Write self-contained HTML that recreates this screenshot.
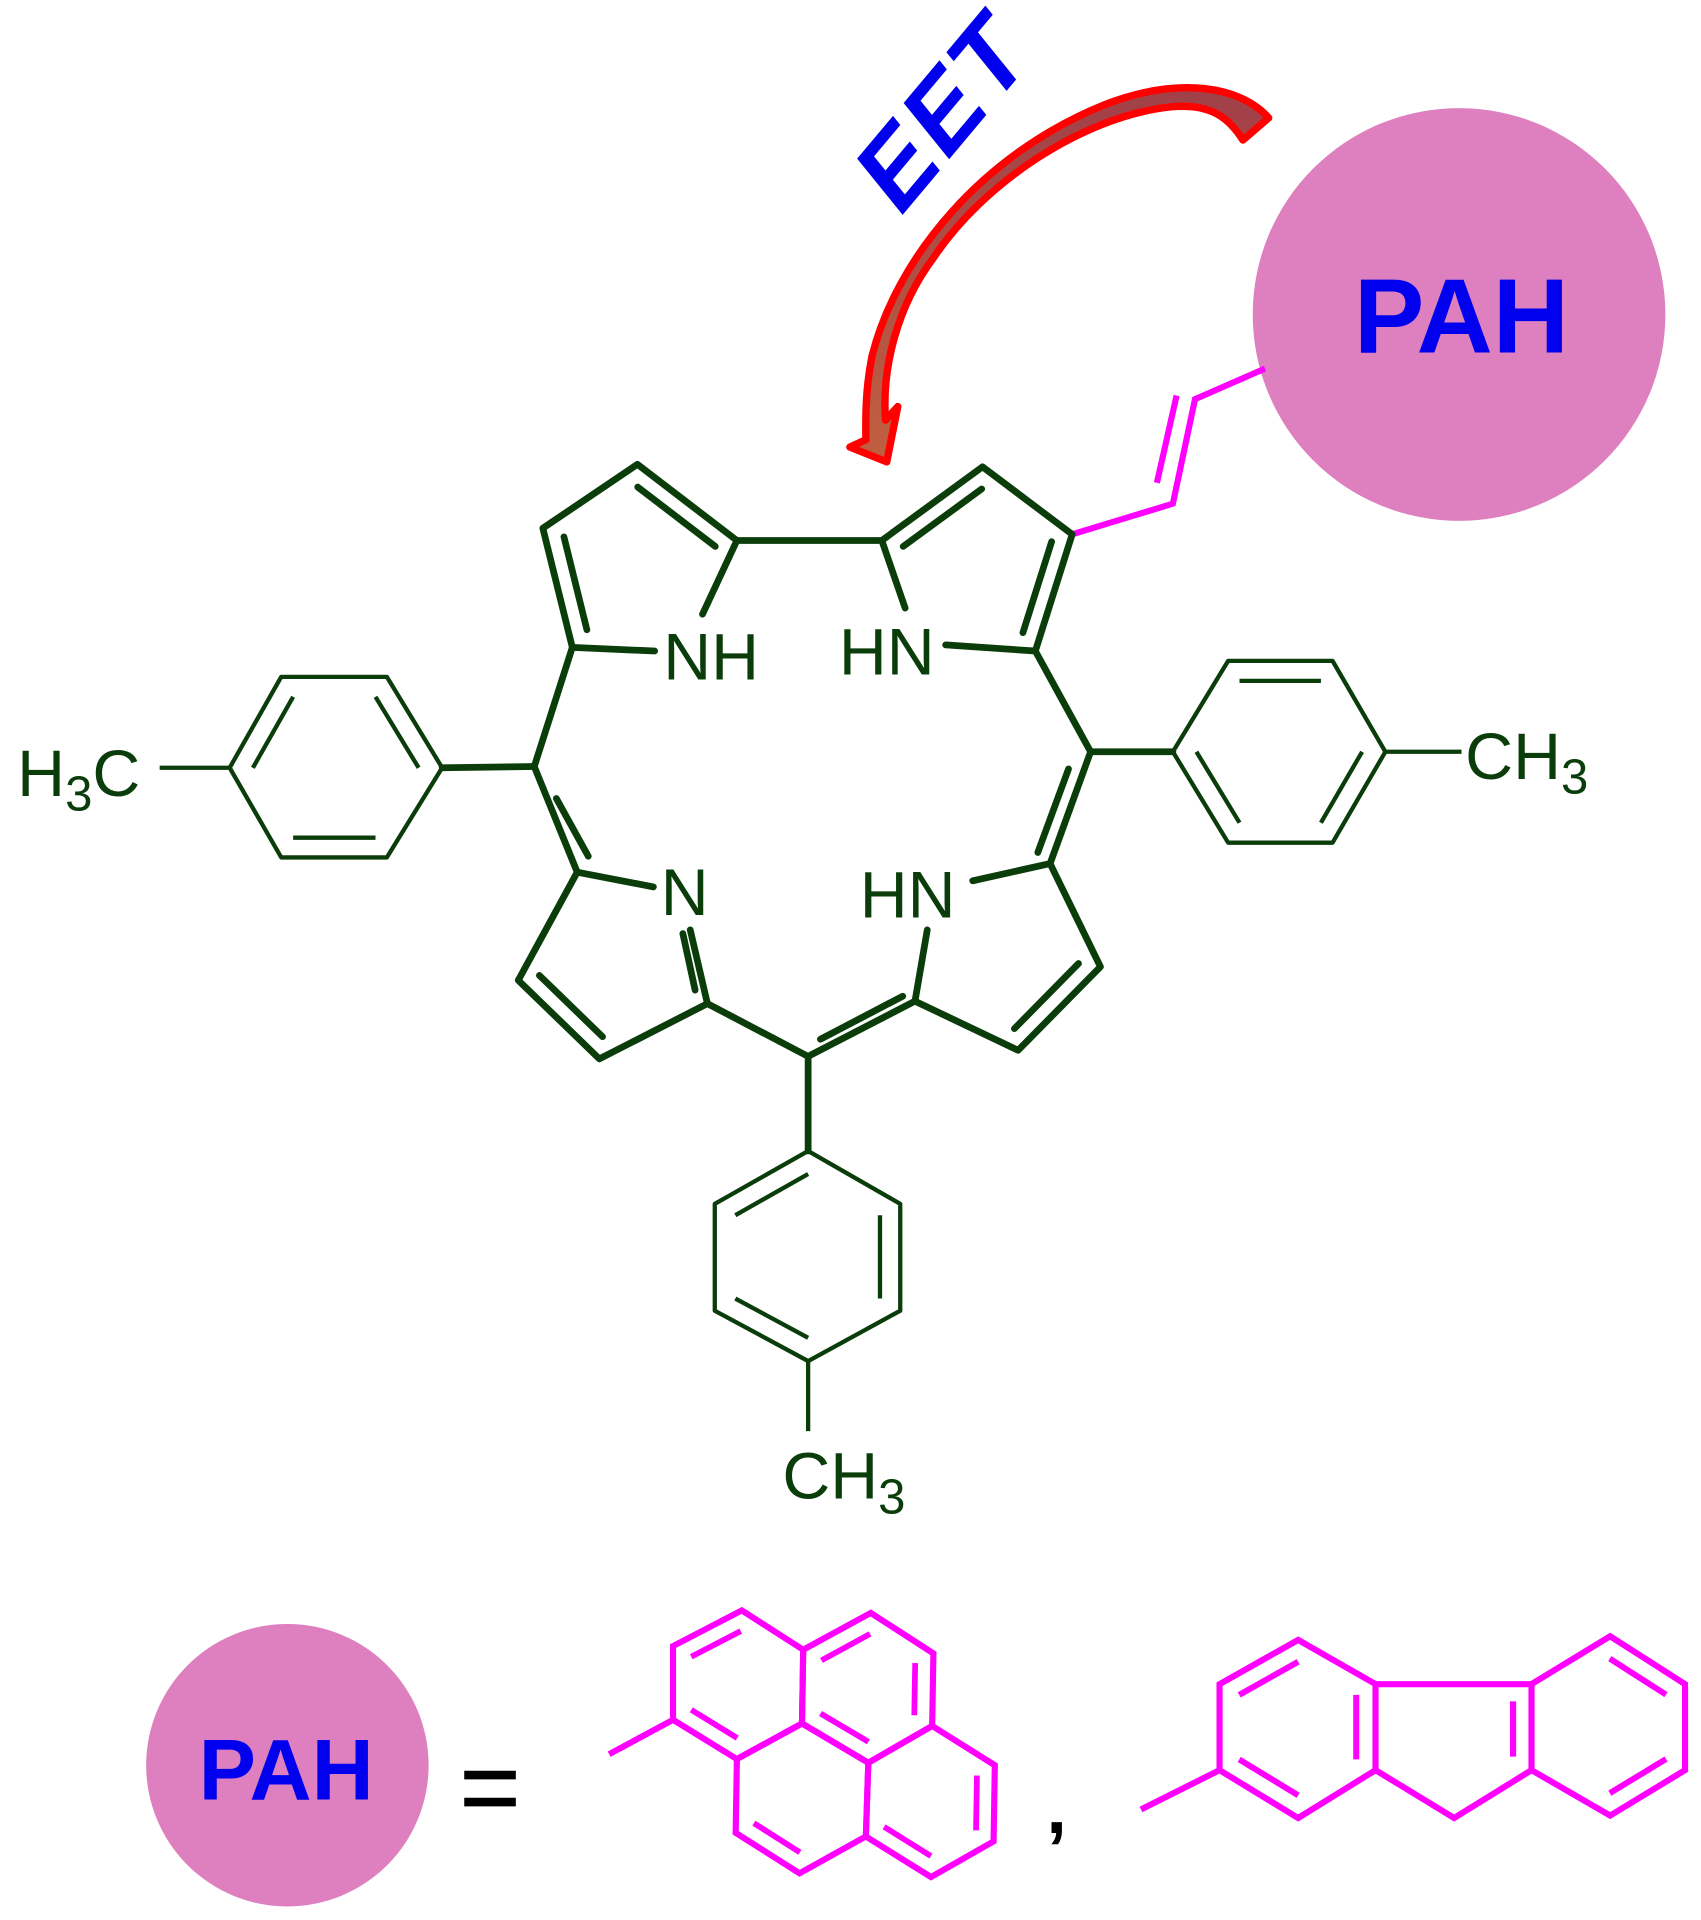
<!DOCTYPE html>
<html><head><meta charset="utf-8"><style>html,body{margin:0;padding:0;background:#fff}svg{display:block}</style></head>
<body>
<svg width="1701" height="1920" viewBox="0 0 1385 1563" preserveAspectRatio="none" xmlns="http://www.w3.org/2000/svg">
<defs>
<linearGradient id="ag" x1="0" y1="0" x2="0" y2="1"><stop offset="0" stop-color="#a04048"/><stop offset="1" stop-color="#c06040"/></linearGradient>
</defs>
<rect width="1385" height="1563" fill="#fff"/>
<path d="M1033,96 C1010,70 960,62 900,85 C800,125 730,210 710,290 C704,320 705,345 705,358 L692,364 L722,376 L731,331 L721,342 C718,300 730,250 760,210 C800,150 880,95 953,87 C985,84 1000,95 1012,114 Z" fill="url(#ag)" stroke="#ff0000" stroke-width="6" stroke-linejoin="round"/>
<text transform="translate(734,176) rotate(-50)" font-family="Liberation Sans, sans-serif" font-weight="bold" font-style="italic" font-size="84" letter-spacing="3" fill="#0000ee">EET</text>
<circle cx="1188" cy="256" r="168" fill="#de80c0"/>
<text x="1190" y="287" text-anchor="middle" font-family="Liberation Sans, sans-serif" font-weight="bold" font-size="86" fill="#0000ee">PAH</text>
<g stroke="#ff00ff" stroke-width="5" fill="none">
<polyline points="873,435 955,410 973,325 1030,300"/>
<line x1="942" y1="393" x2="958" y2="322"/>
</g>
<g stroke="#0b3d0b" stroke-width="5.5" fill="none" stroke-linejoin="round" stroke-linecap="round">
<polyline points="533,530 466,527 442,430 519,378 600,440 572,500"/>
<line x1="600" y1="440" x2="718" y2="440"/>
<polyline points="737,495 718,440 800,380 873,435 843,530 770,525"/>
<polyline points="466,527 435,624 470,710 532,722"/>
<polyline points="843,530 888,612 855,703 792,717"/>
<polyline points="470,710 422,798 488,862 576,817 562,757"/>
<polyline points="855,703 896,787 829,855 745,815 755,757"/>
<polyline points="576,817 658,860 745,815"/>
<line x1="658" y1="860" x2="658" y2="937"/>
<line x1="435" y1="624" x2="360" y2="625"/>
<line x1="888" y1="612" x2="955" y2="612"/>
<line x1="453" y1="650" x2="479" y2="697"/>
<line x1="870" y1="626" x2="845" y2="694"/>
<line x1="668" y1="846" x2="735" y2="811"/>
<g transform="translate(520,462) scale(0.78) translate(-520,-462)" stroke-width="7">
<line x1="442" y1="430" x2="466" y2="527"/><line x1="519" y1="378" x2="600" y2="440"/>
</g>
<g transform="translate(797,462) scale(0.78) translate(-797,-462)" stroke-width="7">
<line x1="718" y1="440" x2="800" y2="380"/><line x1="873" y1="435" x2="843" y2="530"/>
</g>
<g transform="translate(500,780) scale(0.78) translate(-500,-780)" stroke-width="7">
<line x1="422" y1="798" x2="488" y2="862"/>
</g>
<line x1="556" y1="760" x2="566" y2="806"/>
<g transform="translate(815,775) scale(0.78) translate(-815,-775)" stroke-width="7">
<line x1="896" y1="787" x2="829" y2="855"/>
</g>
</g>
<g stroke="#0b3d0b" stroke-width="3.5" fill="none" stroke-linejoin="round">
<polygon points="360,625 315,551 229,551 187,625 229,698 315,698"/>
<line x1="187" y1="625" x2="130" y2="625"/>
<g transform="translate(273,625) scale(0.78) translate(-273,-625)" stroke-width="4.5">
<line x1="315" y1="551" x2="360" y2="625"/><line x1="229" y1="551" x2="187" y2="625"/><line x1="229" y1="698" x2="315" y2="698"/>
</g>
<polygon points="955,612 1000,538 1085,538 1128,612 1085,686 1000,686"/>
<line x1="1128" y1="612" x2="1190" y2="612"/>
<g transform="translate(1042,612) scale(0.78) translate(-1042,-612)" stroke-width="4.5">
<line x1="1000" y1="538" x2="1085" y2="538"/><line x1="1128" y1="612" x2="1085" y2="686"/><line x1="1000" y1="686" x2="955" y2="612"/>
</g>
<polygon points="658,937 733,980 733,1067 658,1108 582,1067 582,980"/>
<line x1="658" y1="1108" x2="658" y2="1165"/>
<g transform="translate(658,1022) scale(0.78) translate(-658,-1022)" stroke-width="4.5">
<line x1="658" y1="937" x2="582" y2="980"/><line x1="733" y1="980" x2="733" y2="1067"/><line x1="658" y1="1108" x2="582" y2="1067"/>
</g>
</g>
<g font-family="Liberation Sans, sans-serif" font-size="54" fill="#0b3d0b">
<text x="540" y="553">NH</text>
<text x="683" y="549">HN</text>
<text x="538" y="745">N</text>
<text x="700" y="747">HN</text>
<text x="14" y="648">H<tspan font-size="40" dy="12">3</tspan><tspan dy="-12">C</tspan></text>
<text x="1193" y="634">CH<tspan font-size="40" dy="12">3</tspan></text>
<text x="637" y="1220">CH<tspan font-size="40" dy="12">3</tspan></text>
</g>
<circle cx="234" cy="1437" r="115" fill="#de80c0"/>
<text x="233" y="1465" text-anchor="middle" font-family="Liberation Sans, sans-serif" font-weight="bold" font-size="70" fill="#0000ee">PAH</text>
<g stroke="#000" stroke-width="7"><line x1="378" y1="1445" x2="420" y2="1445"/><line x1="378" y1="1467" x2="420" y2="1467"/></g>
<text x="852" y="1492" font-family="Liberation Sans, sans-serif" font-weight="bold" font-size="60" fill="#000">,</text>
<g stroke="#ff00ff" stroke-width="5" fill="none" stroke-linejoin="miter">
<polygon points="548,1400 548,1340 604,1311 654,1343 653,1403 600,1432"/>
<polygon points="654,1343 709,1313 760,1346 759,1405 707,1435 653,1403"/>
<polygon points="707,1435 759,1405 810,1437 809,1499 758,1528 705,1495"/>
<polygon points="600,1432 653,1403 707,1435 705,1495 651,1525 599,1492"/>
<line x1="548" y1="1400" x2="496" y2="1428"/>
<g transform="translate(601,1371) scale(0.72) translate(-601,-1371)" stroke-width="6.5">
<line x1="604" y1="1311" x2="548" y2="1340"/><line x1="548" y1="1400" x2="600" y2="1432"/>
</g>
<g transform="translate(707,1374) scale(0.72) translate(-707,-1374)" stroke-width="6.5">
<line x1="709" y1="1313" x2="654" y2="1343"/><line x1="760" y1="1346" x2="759" y2="1405"/><line x1="653" y1="1403" x2="707" y2="1435"/>
</g>
<g transform="translate(758,1467) scale(0.72) translate(-758,-1467)" stroke-width="6.5">
<line x1="810" y1="1437" x2="809" y2="1499"/><line x1="705" y1="1495" x2="758" y2="1528"/>
</g>
<g transform="translate(652,1464) scale(0.72) translate(-652,-1464)" stroke-width="6.5">
<line x1="599" y1="1492" x2="651" y2="1525"/>
</g>
<polygon points="993,1371 1057,1335 1120,1371 1120,1441 1057,1480 993,1441"/>
<polygon points="1247,1371 1311,1332 1372,1371 1372,1441 1311,1478 1247,1441"/>
<line x1="1120" y1="1371" x2="1247" y2="1371"/>
<polyline points="1120,1441 1184,1480 1247,1441"/>
<line x1="993" y1="1441" x2="929" y2="1473"/>
<g transform="translate(1057,1406) scale(0.75) translate(-1057,-1406)" stroke-width="6.5">
<line x1="1057" y1="1335" x2="993" y2="1371"/><line x1="993" y1="1441" x2="1057" y2="1480"/><line x1="1120" y1="1371" x2="1120" y2="1441"/>
</g>
<g transform="translate(1310,1405) scale(0.75) translate(-1310,-1405)" stroke-width="6.5">
<line x1="1311" y1="1332" x2="1372" y2="1371"/><line x1="1372" y1="1441" x2="1311" y2="1478"/>
</g>
<line x1="1232" y1="1385" x2="1232" y2="1430"/>
</g>
</svg>
</body></html>
